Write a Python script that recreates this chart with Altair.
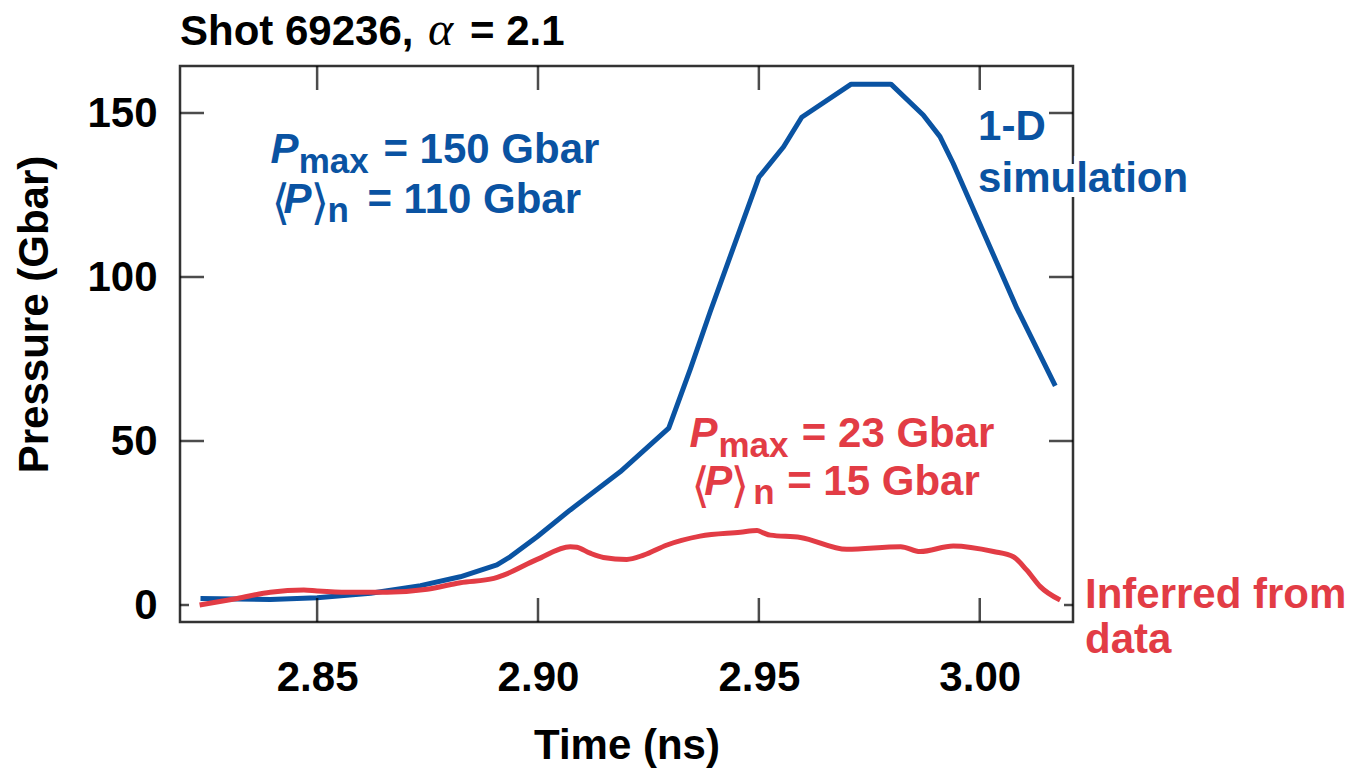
import altair as alt
import pandas as pd

# ---- data ----
sim_t = [2.8236, 2.8394, 2.8500, 2.8621, 2.8734, 2.8824, 2.8907, 2.8937, 2.8998, 2.9073,
         2.9186, 2.9296, 2.9345, 2.9390, 2.9500, 2.9556, 2.9597, 2.9709,
         2.9799, 2.9872, 2.9910, 2.9940, 3.0084, 3.0171]
sim_p = [2.0, 1.7, 2.2, 3.6, 5.9, 8.6, 12.2, 14.7, 20.8, 29.0,
         40.6, 53.9, 72.0, 89.5, 130.4, 139.7, 148.7, 158.8,
         158.8, 149.4, 142.8, 134.6, 90.5, 66.8]

inf_t = [2.8234, 2.8319, 2.8394, 2.8470, 2.8500, 2.8568, 2.8658, 2.8749, 2.8824, 2.8900,
         2.8922, 2.8998, 2.9073, 2.9088, 2.9118, 2.9148, 2.9201, 2.9239, 2.9292, 2.9367,
         2.9458, 2.9496, 2.9510, 2.9526, 2.9594, 2.9699, 2.9821, 2.9865, 2.9940, 3.0031,
         3.0076, 3.0106, 3.0137, 3.0182]
inf_p = [0.0, 2.0, 3.9, 4.6, 4.3, 3.9, 3.9, 4.8, 6.8, 8.1,
         9.1, 13.9, 17.8, 17.6, 15.8, 14.5, 13.9, 15.2, 18.3, 21.0,
         22.2, 22.7, 22.0, 21.3, 20.6, 17.0, 17.8, 16.3, 18.0, 16.3,
         14.7, 10.7, 5.6, 1.5]

x_ticks = [2.85, 2.90, 2.95, 3.00]
y_ticks = [0, 50, 100, 150]

BLUE = "#0A53A2"
RED = "#E23C45"
FONT = "Liberation Sans"
W, H = 893, 556
X_DOM = [2.81896, 3.02111]
Y_DOM = [-5.18, 164.33]

xs = alt.Scale(domain=X_DOM, nice=False, zero=False)
ys = alt.Scale(domain=Y_DOM, nice=False, zero=False)

x_axis = alt.Axis(values=x_ticks, format=".2f", title="Time (ns)", grid=False, domain=False,
                  ticks=False, tickSize=0, labelFont=FONT, labelFontSize=42, labelFontWeight="bold",
                  labelColor="black", labelPadding=35, titleFont=FONT, titleFontSize=42,
                  titleFontWeight="bold", titleColor="black", titleY=136, titleBaseline="alphabetic")
y_axis = alt.Axis(values=y_ticks, format="d", title="Pressure (Gbar)", grid=False, domain=False,
                  ticks=False, tickSize=0, labelFont=FONT, labelFontSize=42, labelFontWeight="bold",
                  labelColor="black", labelPadding=23, titleFont=FONT, titleFontSize=42,
                  titleFontWeight="bold", titleColor="black", titleAngle=270, titleX=-133,
                  titleY=248, titleAlign="center", titleBaseline="alphabetic")


def X(field="t"):
    return alt.X(f"{field}:Q", scale=xs, axis=x_axis)


def Y(field="p"):
    return alt.Y(f"{field}:Q", scale=ys, axis=y_axis)


sim = pd.DataFrame({"t": sim_t, "p": sim_p})
inf = pd.DataFrame({"t": inf_t, "p": inf_p})

sim_line = alt.Chart(sim).mark_line(color=BLUE, strokeWidth=5, strokeJoin="round").encode(x=X(), y=Y())
inf_line = alt.Chart(inf).mark_line(color=RED, strokeWidth=5, interpolate="monotone").encode(x=X(), y=Y())

# inner ticks (clipped half-ticks on the frame)
xt = pd.DataFrame({"t": x_ticks})
yt_long = pd.DataFrame({"p": [v for v in y_ticks if v != 0]})
yt_short = pd.DataFrame({"p": [0]})
tick_layers = [
    alt.Chart(xt).mark_tick(color="black", thickness=2.5, size=48, clip=True).encode(x=X(), y=alt.value(H)),
    alt.Chart(xt).mark_tick(color="black", thickness=2.5, size=48, clip=True).encode(x=X(), y=alt.value(0)),
    alt.Chart(yt_long).mark_tick(color="black", thickness=2.5, size=48, clip=True).encode(y=Y(), x=alt.value(0)),
    alt.Chart(yt_long).mark_tick(color="black", thickness=2.5, size=48, clip=True).encode(y=Y(), x=alt.value(W)),
    alt.Chart(yt_short).mark_tick(color="black", thickness=2.5, size=18, clip=True).encode(y=Y(), x=alt.value(0)),
    alt.Chart(yt_short).mark_tick(color="black", thickness=2.5, size=18, clip=True).encode(y=Y(), x=alt.value(W)),
]


def txt(rows, color, size=42, style="normal", weight="bold", font=FONT, halo=False):
    df = pd.DataFrame(rows, columns=["t", "p", "label"])
    layers = []
    if halo:
        layers.append(alt.Chart(df).mark_text(align="left", baseline="alphabetic", font=font,
                                              fontSize=size, fontStyle=style, fontWeight=weight,
                                              color="white", stroke="white", strokeWidth=10)
                      .encode(x=X(), y=Y(), text="label:N"))
    layers.append(alt.Chart(df).mark_text(align="left", baseline="alphabetic", font=font,
                                          fontSize=size, fontStyle=style, fontWeight=weight,
                                          color=color)
                  .encode(x=X(), y=Y(), text="label:N"))
    return layers


# annotation pieces (t, p, text)
blue_P = [(2.83943, 134.85, "P"), (2.84238, 119.6, "P")]
blue_sub = [(2.84584, 131.6, "max"), (2.85233, 116.7, "n")]
blue_rest = [(2.86500, 134.85, "= 150 Gbar"), (2.86138, 119.6, "= 110 Gbar")]
blue_br = [(2.83966, 117.6, "⟨"), (2.84850, 117.6, "⟩")]

red_P = [(2.93430, 48.26, "P"), (2.93762, 33.54, "P")]
red_sub = [(2.94086, 45.03, "max"), (2.94871, 30.79, "n")]
red_rest = [(2.95973, 48.26, "= 23 Gbar"), (2.95640, 33.54, "= 15 Gbar")]
red_br = [(2.93468, 31.5, "⟨"), (2.94360, 31.5, "⟩")]

sim_label = [(2.99963, 141.8, "1-D"), (2.99963, 125.9, "simulation")]
inf_label = [(3.02382, -0.9, "Inferred from"), (3.02382, -14.6, "data")]

text_layers = []
text_layers += txt(blue_P, BLUE, style="italic")
text_layers += txt(blue_sub, BLUE, size=35)
text_layers += txt(blue_rest, BLUE)
text_layers += txt(blue_br, BLUE, size=48, weight="normal", font="DejaVu Sans")
text_layers += txt(red_P, RED, style="italic")
text_layers += txt(red_sub, RED, size=35)
text_layers += txt(red_rest, RED)
text_layers += txt(red_br, RED, size=48, weight="normal", font="DejaVu Sans")
text_layers += txt(sim_label, BLUE, halo=True)
text_layers += txt(inf_label, RED)

# chart title pieces
title_df = pd.DataFrame({"a": [0]})
title_layers = [
    alt.Chart(title_df).mark_text(align="left", baseline="alphabetic", font=FONT, fontSize=42,
                                  fontWeight="bold", color="black", text="Shot 69236,")
    .encode(x=alt.value(0), y=alt.value(-21)),
    alt.Chart(title_df).mark_text(align="left", baseline="alphabetic", font="Liberation Serif",
                                  fontSize=48, fontStyle="italic", color="black", text="α")
    .encode(x=alt.value(248), y=alt.value(-21)),
    alt.Chart(title_df).mark_text(align="left", baseline="alphabetic", font=FONT, fontSize=42,
                                  fontWeight="bold", color="black", text="= 2.1")
    .encode(x=alt.value(290), y=alt.value(-21)),
]

chart = alt.layer(sim_line, inf_line, *tick_layers, *text_layers, *title_layers).properties(
    width=W, height=H,
    padding={"left": 180, "top": 66, "right": 277, "bottom": 151},
    autosize=alt.AutoSizeParams(type="none"),
    background="white",
).configure_view(stroke="#333333", strokeWidth=2.5)

chart.save("out.html", embed_options={"renderer": "svg", "actions": False})
